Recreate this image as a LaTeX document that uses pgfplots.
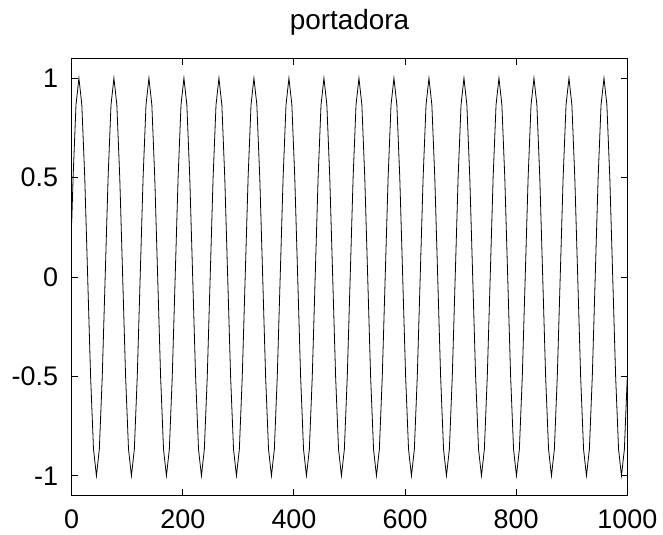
\documentclass[border=0pt]{standalone}
\usepackage{pgfplots}
\pgfplotsset{compat=1.18}
\usepackage{pgfplotstable}
\usepackage{fontspec}
\setmainfont{Liberation Sans}

\pgfplotstableread{
x y
0 0.27
2.5 0.5
7.75 0.866
13 1
18.25 0.866
23.5 0.5
28.75 0
34 -0.5
39.25 -0.866
44.5 -1
49.75 -0.866
55 -0.5
60.25 0
65.5 0.5
70.75 0.866
76 1
81.25 0.866
86.5 0.5
91.75 0
97 -0.5
102.25 -0.866
107.5 -1
112.75 -0.866
118 -0.5
123.25 0
128.5 0.5
133.75 0.866
139 1
144.25 0.866
149.5 0.5
154.75 0
160 -0.5
165.25 -0.866
170.5 -1
175.75 -0.866
181 -0.5
186.25 0
191.5 0.5
196.75 0.866
202 1
207.25 0.866
212.5 0.5
217.75 0
223 -0.5
228.25 -0.866
233.5 -1
238.75 -0.866
244 -0.5
249.25 0
254.5 0.5
259.75 0.866
265 1
270.25 0.866
275.5 0.5
280.75 0
286 -0.5
291.25 -0.866
296.5 -1
301.75 -0.866
307 -0.5
312.25 0
317.5 0.5
322.75 0.866
328 1
333.25 0.866
338.5 0.5
343.75 0
349 -0.5
354.25 -0.866
359.5 -1
364.75 -0.866
370 -0.5
375.25 0
380.5 0.5
385.75 0.866
391 1
396.25 0.866
401.5 0.5
406.75 0
412 -0.5
417.25 -0.866
422.5 -1
427.75 -0.866
433 -0.5
438.25 0
443.5 0.5
448.75 0.866
454 1
459.25 0.866
464.5 0.5
469.75 0
475 -0.5
480.25 -0.866
485.5 -1
490.75 -0.866
496 -0.5
501.25 0
506.5 0.5
511.75 0.866
517 1
522.25 0.866
527.5 0.5
532.75 0
538 -0.5
543.25 -0.866
548.5 -1
553.75 -0.866
559 -0.5
564.25 0
569.5 0.5
574.75 0.866
580 1
585.25 0.866
590.5 0.5
595.75 0
601 -0.5
606.25 -0.866
611.5 -1
616.75 -0.866
622 -0.5
627.25 0
632.5 0.5
637.75 0.866
643 1
648.25 0.866
653.5 0.5
658.75 0
664 -0.5
669.25 -0.866
674.5 -1
679.75 -0.866
685 -0.5
690.25 0
695.5 0.5
700.75 0.866
706 1
711.25 0.866
716.5 0.5
721.75 0
727 -0.5
732.25 -0.866
737.5 -1
742.75 -0.866
748 -0.5
753.25 0
758.5 0.5
763.75 0.866
769 1
774.25 0.866
779.5 0.5
784.75 0
790 -0.5
795.25 -0.866
800.5 -1
805.75 -0.866
811 -0.5
816.25 0
821.5 0.5
826.75 0.866
832 1
837.25 0.866
842.5 0.5
847.75 0
853 -0.5
858.25 -0.866
863.5 -1
868.75 -0.866
874 -0.5
879.25 0
884.5 0.5
889.75 0.866
895 1
900.25 0.866
905.5 0.5
910.75 0
916 -0.5
921.25 -0.866
926.5 -1
931.75 -0.866
937 -0.5
942.25 0
947.5 0.5
952.75 0.866
958 1
963.25 0.866
968.5 0.5
973.75 0
979 -0.5
984.25 -0.866
989.5 -1
994.75 -0.866
1000 -0.5
}\carrier

\begin{document}
\begin{tikzpicture}
\begin{axis}[
  scale only axis,
  width=555.6bp, height=437.4bp,
  xmin=0, xmax=1000,
  ymin=-1.1, ymax=1.1,
  axis line style={black, line width=0.9bp},
  tick pos=both,
  tick align=inside,
  major tick length=6.5bp,
  tick style={black, line width=0.9bp},
  xtick={0,200,400,600,800,1000},
  xticklabels={0,200,400,600,800,1000},
  ytick={-1,-0.5,0,0.5,1},
  yticklabels={-1,-0.5,0,0.5,1},
  tick label style={font=\fontsize{27}{30}\selectfont, inner sep=0pt},
  xticklabel style={anchor=north, yshift=-14.3bp},
  yticklabel style={anchor=east, xshift=-13.4bp},
  title={portadora},
  title style={font=\fontsize{28}{32}\selectfont, at={(0.5,1)}, anchor=base, yshift=23.3bp, inner sep=0pt},
]
\addplot[black, line width=0.8bp] table[x=x, y=y] {\carrier};
\end{axis}
\pgfresetboundingbox
\path[use as bounding box] ([xshift=-71.7bp, yshift=-39.3bp]current axis.south west) rectangle ([xshift=35.7bp, yshift=58.3bp]current axis.north east);
\end{tikzpicture}
\end{document}
